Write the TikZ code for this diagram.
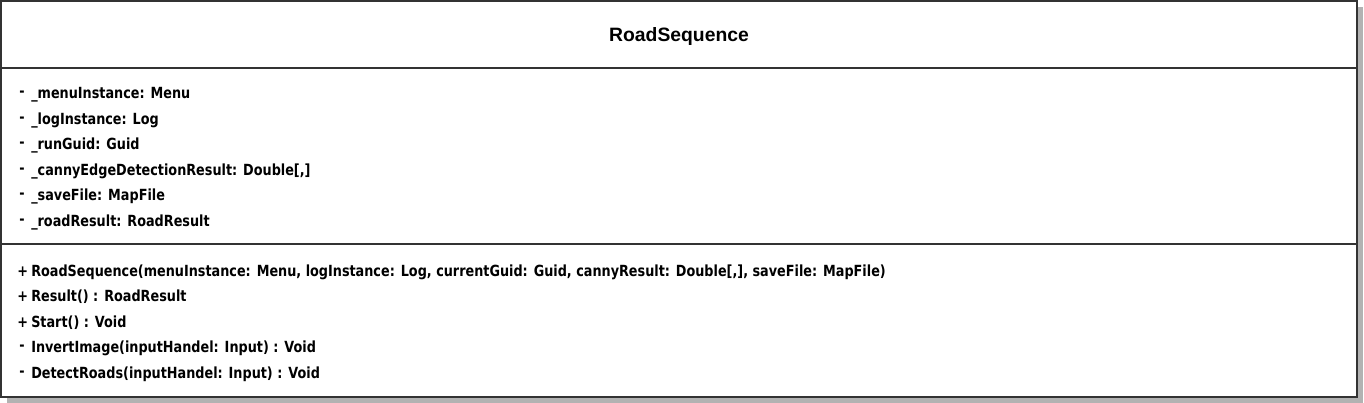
\documentclass[tikz,border=0pt]{standalone}
\usepackage{fontspec}
\setmainfont{DejaVu Sans}[FakeStretch=0.835]
\newfontfamily\titlefont{Liberation Sans}
\usetikzlibrary{positioning,shadows}
\tikzstyle{class} = [rectangle, draw=black!80, line width=1.5pt, fill=white, minimum width=1017pt, minimum height=297pt, inner sep=0pt, drop shadow={shadow xshift=4.5pt, shadow yshift=-4.5pt, fill=black!30, opacity=1}]
\tikzstyle{title} = [anchor=base, inner sep=0pt, font=\titlefont\bfseries\fontsize{14.5}{17}\selectfont]
\tikzstyle{member} = [anchor=base west, inner sep=0pt, font=\bfseries\fontsize{11.5}{13}\selectfont]
\newcommand{\vsym}[1]{\makebox[9pt][l]{\raisebox{1.5pt}{#1}}}
\newcommand{\psym}[1]{\makebox[10.5pt][l]{#1}}

\begin{document}
\begin{tikzpicture}[x=0.75pt, y=-0.75pt]
  \useasboundingbox (0,0) rectangle (1364,403);

  \node (cls) [class] at (679,199) {};
  \draw[black!80, line width=1.5pt] (cls.west |- 0,68) -- (cls.east |- 0,68);
  \draw[black!80, line width=1.5pt] (cls.west |- 0,244) -- (cls.east |- 0,244);

  \node (name) [title] at (679,41.7) {RoadSequence};

  % fields
  \node (f1) [member] at (19,98.5) {\vsym{-}\_menuInstance: Menu};
  \node (f2) [member] at (19,124) {\vsym{-}\_logInstance: Log};
  \node (f3) [member] at (19,149.5) {\vsym{-}\_runGuid: Guid};
  \node (f4) [member] at (19,175) {\vsym{-}\_cannyEdgeDetectionResult: Double[,]};
  \node (f5) [member] at (19,200.5) {\vsym{-}\_saveFile: MapFile};
  \node (f6) [member] at (19,226) {\vsym{-}\_roadResult: RoadResult};

  % methods
  \node (m1) [member] at (17,276) {\psym{+}RoadSequence(menuInstance: Menu, logInstance: Log, currentGuid: Guid, cannyResult: Double[,], saveFile: MapFile)};
  \node (m2) [member] at (17,301.5) {\psym{+}Result() : RoadResult};
  \node (m3) [member] at (17,327) {\psym{+}Start() : Void};
  \node (m4) [member] at (19,352.5) {\vsym{-}InvertImage(inputHandel: Input) : Void};
  \node (m5) [member] at (19,378) {\vsym{-}DetectRoads(inputHandel: Input) : Void};
\end{tikzpicture}
\end{document}
